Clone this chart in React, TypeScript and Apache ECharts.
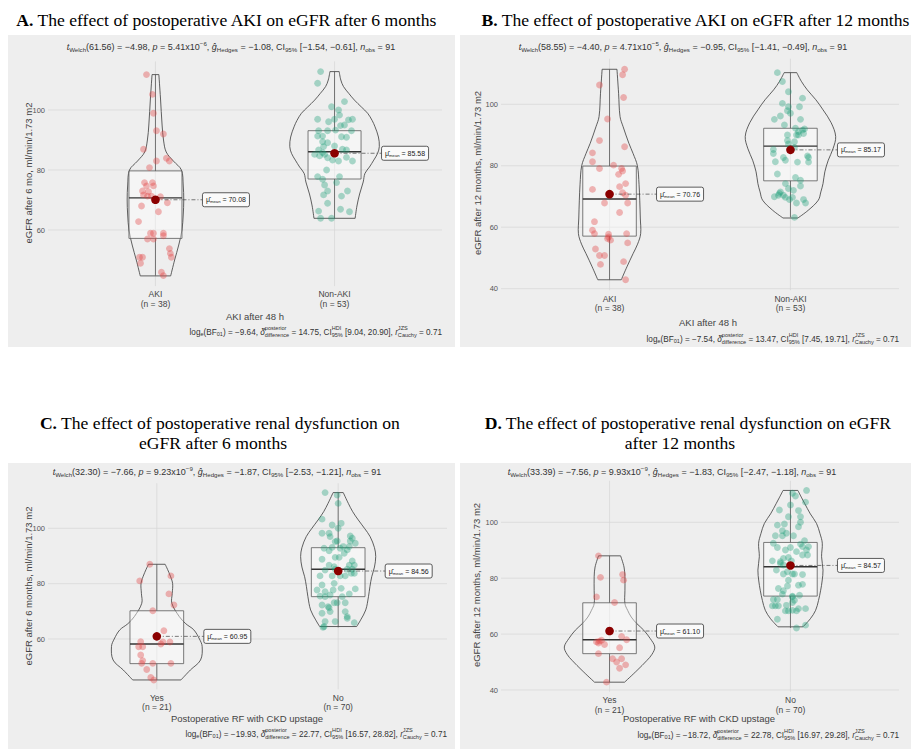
import React, { useEffect, useRef } from "react";
import * as echarts from "echarts";

const SANS = "'Liberation Sans', Arial, Helvetica, sans-serif";
const SERIF = "'Liberation Serif', 'Times New Roman', Times, serif";

// ---------------- Panel A : eGFR after 6 months by AKI ----------------
const A_CATEGORIES = ["AKI", "Non-AKI"];
const A_AKI_EGFR = [111.8, 105.2, 98.9, 93.1, 92.0, 86.9, 83.0, 83.9, 83.0, 80.8, 75.8, 74.7, 75.8, 74.7, 73.0, 71.7, 71.3, 71.3, 71.1, 69.1, 68.0, 66.1, 62.8, 58.9, 58.9, 57.0, 57.0, 58.9, 58.1, 53.8, 52.2, 50.9, 50.9, 50.9, 48.9, 45.9, 44.8, 72.8];
const A_AKI_JITTER = [-9, -3, -2, 1, 8, -12, 1, 11, 14, -6, -11, -9, -3, -2, -13, -12, -8, -4, 5, 12, -14, 3, -17, -5, -2, -8, -2, 8, 8, 14, 15, 16, -16, -13, -15, 6, 8, -7];
const A_NONAKI_EGFR = [112.8, 108.9, 102.8, 101.1, 100.0, 98.3, 96.9, 96.1, 96.9, 96.7, 96.9, 94.8, 95.0, 93.1, 93.1, 93.1, 91.3, 90.9, 89.4, 89.1, 88.0, 87.8, 86.7, 86.9, 86.7, 85.2, 84.7, 85.2, 84.1, 84.2, 83.0, 83.0, 85.8, 77.8, 80.0, 76.9, 75.0, 77.8, 75.8, 73.0, 73.0, 71.3, 71.7, 68.9, 66.9, 66.3, 66.1, 63.9, 63.9, 91.1, 91.3, 93.3, 83.3];
const A_NONAKI_JITTER = [-14, -17, 10, -3, 4, 5, -17, -6, 0, 14, 18, 6, 10, -16, -7, 17, -17, 12, -12, -7, 0, -11, -16, 8, 12, -20, -15, -10, -7, 12, 4, 18, -12, -17, -8, -12, -10, 5, 2, -7, 13, 7, -11, -7, 6, -16, 15, -14, -3, 7, -12, 1, -2];
const A_QUARTILES = [[57.2, 70.7, 79.7], [77.0, 86.1, 93.1]];
const A_MEANS = [70.08, 85.58];
const A_VIOLIN_AKI = [[111.8, 0.019], [104, 0.028], [95, 0.037], [90, 0.045], [86, 0.06], [83, 0.1], [80, 0.145], [75, 0.155], [70, 0.158], [65, 0.155], [60, 0.148], [55, 0.13], [50, 0.107], [44.7, 0.085]];
const A_VIOLIN_NONAKI = [[112.8, 0.026], [110, 0.035], [107.8, 0.05], [105.5, 0.08], [103.3, 0.111], [101, 0.15], [98.9, 0.185], [96.5, 0.21], [94.4, 0.226], [91, 0.245], [87.8, 0.25], [85.5, 0.24], [83.3, 0.219], [81, 0.195], [78.9, 0.17], [76, 0.16], [72, 0.14], [68, 0.125], [63.9, 0.115]];
const A_STATS = { df: "61.56", t: "\u22124.98", pm: "5.41", pe: "\u22126", g: "\u22121.08", ci: ["\u22121.54", "\u22120.61"], n: "91", bf: "\u22129.64", d: "14.75", hdi: ["9.04", "20.90"], r: "0.71" };
const A_TITLE = [["A.", " The effect of postoperative AKI on eGFR after 6 months"]];
const A_Y_TITLE = "eGFR after 6 mo, ml/min/1.73 m2";
const A_X_TITLE = "AKI after 48 h";

// ---------------- Panel B : eGFR after 12 months by AKI ----------------
const B_CATEGORIES = ["AKI", "Non-AKI"];
const B_AKI_EGFR = [111.4, 109.6, 106.3, 102.2, 95.2, 88.2, 86.2, 84.2, 81.3, 80.2, 79.1, 79.1, 78.3, 77.2, 74.2, 73.2, 72.3, 71.2, 70.4, 67.9, 67.9, 64.8, 61.8, 59.0, 57.9, 57.7, 56.8, 55.8, 57.9, 54.9, 52.9, 50.8, 50.8, 47.9, 48.8, 42.9, 71.0, 56.3];
const B_AKI_JITTER = [15, 13, -10, 14, -2, -10, 15, -17, -17, 4, -10, 12, 13, 9, 16, 10, -17, 13, 16, -5, 18, 10, -15, -17, -15, -1, -1, 1, 17, 18, -14, -10, -5, -9, 14, 16, 0, -2];
const B_NONAKI_EGFR = [110.3, 107.4, 104.1, 102.0, 100.3, 99.2, 99.2, 97.9, 97.1, 96.2, 95.1, 95.1, 93.3, 92.2, 92.0, 91.1, 91.6, 90.5, 90.0, 90.0, 90.0, 88.2, 87.8, 87.1, 85.3, 84.0, 86.0, 83.2, 82.7, 81.8, 81.3, 81.2, 81.2, 77.3, 76.2, 75.3, 74.2, 73.4, 72.6, 72.0, 71.5, 70.4, 69.9, 69.7, 69.7, 69.0, 69.0, 67.9, 67.9, 63.2, 71.0, 82.7, 70.4];
const B_NONAKI_JITTER = [-13, -8, -2, 12, -8, -2, 9, -3, 0, -10, -16, 10, -6, 5, 14, 8, 12, 13, -3, 6, 8, -3, 4, -2, -17, -17, 4, 17, -7, -5, -15, 7, 18, -13, 5, 10, -5, 10, -2, 3, -10, -7, -16, -5, 2, -1, 13, 15, 6, 4, -11, 18, -12];
const B_QUARTILES = [[57.1, 69.2, 79.9], [75.1, 86.4, 92.2]];
const B_MEANS = [70.76, 85.17];
const B_VIOLIN_AKI = [[111.4, 0.041], [103.6, 0.05], [96, 0.058], [92.7, 0.075], [87.3, 0.107], [84, 0.13], [80, 0.154], [74, 0.163], [68.8, 0.167], [63, 0.17], [57.9, 0.172], [54.5, 0.155], [51.4, 0.13], [47.1, 0.096], [42.9, 0.065]];
const B_VIOLIN_NONAKI = [[110.3, 0.035], [107.5, 0.06], [104.7, 0.093], [101.5, 0.14], [98.2, 0.18], [94, 0.225], [89.5, 0.25], [85.5, 0.235], [81.8, 0.209], [78, 0.19], [74.2, 0.18], [71.5, 0.168], [68.8, 0.154], [65.5, 0.098], [63, 0.041]];
const B_STATS = { df: "58.55", t: "\u22124.40", pm: "4.71", pe: "\u22125", g: "\u22120.95", ci: ["\u22121.41", "\u22120.49"], n: "91", bf: "\u22127.54", d: "13.47", hdi: ["7.45", "19.71"], r: "0.71" };
const B_TITLE = [["B.", " The effect of postoperative AKI on eGFR after 12 months"]];
const B_Y_TITLE = "eGFR after 12 months, ml/min/1.73 m2";
const B_X_TITLE = "AKI after 48 h";

// ---------------- Panel C : eGFR after 6 months by renal dysfunction ----------------
const C_CATEGORIES = ["Yes", "No"];
const C_YES_EGFR = [87, 81, 82.8, 76.3, 72.3, 70.2, 63, 59, 58.9, 58.9, 57.2, 57.2, 58.2, 54.2, 52.2, 51.2, 51.2, 49, 46.1, 45.2, 51.2];
const C_YES_JITTER = [-7, -17, 14, 12, 17, -4, 7, -16, 6, 13, -18, -14, 4, -16, -14, -15, -4, -10, -6, -3, 14];
const C_NO_EGFR = [112.9, 112.0, 109.0, 103.3, 101.2, 101.8, 100.0, 98.2, 97.2, 96.4, 97.0, 95.4, 95.4, 92.8, 93.1, 92.8, 93.4, 94.6, 91.9, 92.2, 88.8, 89.5, 88.2, 86.7, 86.7, 85.2, 85.2, 84.9, 86.1, 85.2, 82.8, 82.8, 82.8, 83.7, 80.1, 78.3, 78.1, 77.1, 75.5, 75.3, 75.9, 76.3, 73.1, 73.1, 73.1, 72.3, 71.7, 71.3, 69.9, 69.9, 68.1, 69.3, 66.3, 66.3, 65.9, 64.2, 64.5, 98.2, 91.0, 89.5, 86.7, 83.7, 82.8, 79.5, 75.3, 77.7, 77.7, 67.5, 93.4, 95.2];
const C_NO_JITTER = [-13, -1, 0, -16, -6, 3, 0, -16, 12, 14, -8, -1, 12, -14, -6, 2, 11, 17, -9, 9, -16, -3, 14, 16, 11, 9, -3, -13, -4, 14, -18, -6, 7, 16, -4, 3, 17, -13, -18, -13, -8, 11, -1, 7, -4, -16, -10, -9, -8, 7, 9, -16, -13, -3, 16, -15, -14, -9, 6, 1, -9, 13, 2, -16, 4, -21, -5, 9, 5, -3];
const C_QUARTILES = [[51.1, 58.2, 70.2], [75.3, 85.2, 93.0]];
const C_MEANS = [60.95, 84.56];
const C_VIOLIN_YES = [[87, 0.046], [83.5, 0.07], [80.1, 0.087], [76.5, 0.085], [72.9, 0.083], [68.1, 0.124], [65.5, 0.16], [63.3, 0.204], [60, 0.235], [57.3, 0.25], [52.4, 0.241], [48.8, 0.185], [45.2, 0.133]];
const C_VIOLIN_NO = [[112.9, 0.028], [109, 0.056], [106, 0.08], [103, 0.111], [100, 0.145], [97, 0.176], [93, 0.2], [89.8, 0.207], [86, 0.2], [82.5, 0.185], [78.9, 0.175], [75.3, 0.167], [70.5, 0.152], [66.9, 0.124], [64.5, 0.102]];
const C_STATS = { df: "32.30", t: "\u22127.66", pm: "9.23", pe: "\u22129", g: "\u22121.87", ci: ["\u22122.53", "\u22121.21"], n: "91", bf: "\u221219.93", d: "22.77", hdi: ["16.57", "28.82"], r: "0.71" };
const C_TITLE = [["C.", " The effect of postoperative renal dysfunction on"], ["", "eGFR after 6 months"]];
const C_Y_TITLE = "eGFR after 6 months, ml/min/1.73 m2";
const C_X_TITLE = "Postoperative RF with CKD upstage";

// ---------------- Panel D : eGFR after 12 months by renal dysfunction ----------------
const D_CATEGORIES = ["Yes", "No"];
const D_YES_EGFR = [88, 80.3, 81.3, 79.3, 73.3, 71.3, 57.5, 56.8, 56.3, 59.2, 58, 55.1, 53, 51.2, 51.2, 49, 47.8, 42.8, 57.2, 57.8, 50];
const D_YES_JITTER = [-11, -9, 13, 14, -13, 5, -10, -11, -5, 12, 17, 10, -11, 3, 12, 16, 10, -3, -13, -8, 7];
const D_NO_EGFR = [111.4, 110.4, 109.4, 107.2, 106.2, 104.4, 104.2, 102.0, 102.0, 99.4, 100.0, 99.0, 98.4, 97.0, 96.1, 95.2, 95.2, 95.2, 93.4, 92.2, 91.3, 92.5, 91.0, 90.1, 90.1, 89.5, 88.3, 88.3, 87.1, 87.4, 86.2, 85.3, 86.2, 82.3, 81.5, 81.5, 81.5, 81.3, 79.3, 77.8, 76.3, 77.5, 77.2, 75.5, 74.3, 73.9, 73.3, 72.4, 72.4, 72.1, 71.3, 70.1, 70.1, 70.1, 70.3, 69.1, 69.1, 68.3, 68.3, 68.3, 68.5, 65.3, 63.2, 62.2, 85.9, 84.7, 91.0, 82.9, 91.3, 73.6];
const D_NO_JITTER = [16, 2, 5, 15, 0, -11, 8, 10, -2, -6, 10, -13, 8, -8, -4, -15, -8, 3, 14, 10, 12, -17, -13, 16, -5, 6, 12, 17, -7, -2, -18, -10, 1, -3, 2, 4, -7, 12, -2, 12, -12, 8, -3, -7, -8, 9, 2, -17, -13, 4, 2, -18, -15, -12, -4, 8, 15, 6, -2, -5, 2, -13, 15, 6, -10, -7, 0, -14, 18, 2];
const D_QUARTILES = [[53.0, 58.0, 71.2], [73.6, 84.1, 92.8]];
const D_MEANS = [61.10, 84.57];
const D_VIOLIN_YES = [[88, 0.061], [84, 0.08], [80.5, 0.085], [75.5, 0.085], [70.9, 0.085], [68.5, 0.1], [66.1, 0.12], [63.8, 0.15], [61.4, 0.189], [58.4, 0.225], [55.4, 0.25], [52.8, 0.235], [50.6, 0.207], [47, 0.152], [42.8, 0.083]];
const D_VIOLIN_NO = [[111.4, 0.041], [109, 0.06], [106.8, 0.078], [103, 0.11], [99.6, 0.144], [96, 0.163], [92.5, 0.176], [87.7, 0.172], [82.9, 0.18], [79, 0.175], [75.7, 0.167], [72, 0.155], [68.5, 0.139], [65.5, 0.11], [62.6, 0.069]];
const D_STATS = { df: "33.39", t: "\u22127.56", pm: "9.93", pe: "\u22129", g: "\u22121.83", ci: ["\u22122.47", "\u22121.18"], n: "91", bf: "\u221218.72", d: "22.78", hdi: ["16.97", "29.28"], r: "0.71" };
const D_TITLE = [["D.", " The effect of postoperative renal dysfunction on eGFR"], ["", "after 12 months"]];
const D_Y_TITLE = "eGFR after 12 months, ml/min/1.73 m2";
const D_X_TITLE = "Postoperative RF with CKD upstage";

const Y_TICKS = [40, 60, 80, 100];
// jitter offsets are stored in 1/180 of one category step
const JITTER_STEP = 1 / 180;

const PANELS = [
  { cats: A_CATEGORIES, values: [A_AKI_EGFR, A_NONAKI_EGFR], jitter: [A_AKI_JITTER, A_NONAKI_JITTER], quart: A_QUARTILES, means: A_MEANS, violins: [A_VIOLIN_AKI, A_VIOLIN_NONAKI], stats: A_STATS, title: A_TITLE, yTitle: A_Y_TITLE, xTitle: A_X_TITLE },
  { cats: B_CATEGORIES, values: [B_AKI_EGFR, B_NONAKI_EGFR], jitter: [B_AKI_JITTER, B_NONAKI_JITTER], quart: B_QUARTILES, means: B_MEANS, violins: [B_VIOLIN_AKI, B_VIOLIN_NONAKI], stats: B_STATS, title: B_TITLE, yTitle: B_Y_TITLE, xTitle: B_X_TITLE },
  { cats: C_CATEGORIES, values: [C_YES_EGFR, C_NO_EGFR], jitter: [C_YES_JITTER, C_NO_JITTER], quart: C_QUARTILES, means: C_MEANS, violins: [C_VIOLIN_YES, C_VIOLIN_NO], stats: C_STATS, title: C_TITLE, yTitle: C_Y_TITLE, xTitle: C_X_TITLE },
  { cats: D_CATEGORIES, values: [D_YES_EGFR, D_NO_EGFR], jitter: [D_YES_JITTER, D_NO_JITTER], quart: D_QUARTILES, means: D_MEANS, violins: [D_VIOLIN_YES, D_VIOLIN_NO], stats: D_STATS, title: D_TITLE, yTitle: D_Y_TITLE, xTitle: D_X_TITLE },
];

// layout (pixels)
const LAYOUT = [
  { left: 48, width: 394, y100: 110, ppu: 3.0, bg: [8, 35, 447, 312], title: [{ x: 227, y: 20 }], sub: { x: 231, y: 47 }, xTitle: { x: 255, y: 316 }, caption: { x: 442, y: 332 }, yTitle: { x: 28, y: 173 } },
  { left: 501, width: 398, y100: 104.3, ppu: 3.073, bg: [460, 35, 451, 312], title: [{ x: 696, y: 20 }], sub: { x: 683, y: 47 }, xTitle: { x: 708, y: 322 }, caption: { x: 899, y: 339 }, yTitle: { x: 477, y: 173 } },
  { left: 48, width: 399, y100: 528.3, ppu: 2.7675, bg: [8, 463, 447, 286], title: [{ x: 220, y: 423 }, { x: 213, y: 443 }], sub: { x: 217, y: 472 }, xTitle: { x: 247, y: 718 }, caption: { x: 447, y: 734 }, yTitle: { x: 28, y: 586 } },
  { left: 501, width: 398, y100: 522.3, ppu: 2.795, bg: [460, 463, 451, 286], title: [{ x: 688, y: 423 }, { x: 680, y: 443 }], sub: { x: 672, y: 472 }, xTitle: { x: 699, y: 718 }, caption: { x: 899, y: 735 }, yTitle: { x: 476, y: 585 } },
];

const BG = "#eeeeee";
const GRID_COLOR = "#d6d6d6";
const POINT_COLORS = ["rgba(226,70,70,0.48)", "rgba(27,158,119,0.45)"];
const BOX_HALF = 0.148;

type Seg = { t?: string; sup?: string; sub?: string; s?: number; dy?: number; it?: boolean; b?: boolean };

let measureCtx: CanvasRenderingContext2D | null = null;
function fontStr(size: number, it: boolean | undefined, b: boolean | undefined, fam: string) {
  return `${it ? "italic " : ""}${b ? "bold " : ""}${size}px ${fam}`;
}
function measure(text: string, font: string) {
  if (!measureCtx) measureCtx = document.createElement("canvas").getContext("2d");
  measureCtx!.font = font;
  return measureCtx!.measureText(text).width;
}

function layoutText(segs: Seg[], fs: number, fam: string, x: number, y: number, align: string, fill: string, z = 10) {
  const parts = segs.map((sg) => {
    const size = fs * (sg.s ?? 1);
    if (sg.sup !== undefined) {
      const f = fontStr(size, false, false, fam);
      return { sg, size, f, w: Math.max(measure(sg.sup!, f), measure(sg.sub || "", f)) };
    }
    const f = fontStr(size, sg.it, sg.b, fam);
    return { sg, size, f, w: measure(sg.t || "", f) };
  });
  const total = parts.reduce((a, p) => a + p.w, 0);
  let cx = align === "center" ? x - total / 2 : align === "right" ? x - total : x;
  const els: any[] = [];
  const txt = (tx: number, ty: number, text: string, font: string) => ({
    type: "text", x: tx, y: ty, z, silent: true,
    style: { text, font, fill, textAlign: "left", textVerticalAlign: "middle", align: "left", verticalAlign: "middle" },
  });
  for (const p of parts) {
    const sg = p.sg;
    if (sg.sup !== undefined) {
      els.push(txt(cx, y - 0.46 * fs, sg.sup!, p.f));
      els.push(txt(cx, y + 0.42 * fs, sg.sub || "", p.f));
    } else {
      els.push(txt(cx, y + (sg.dy ?? 0) * fs, sg.t || "", p.f));
    }
    cx += p.w;
  }
  return { els, width: total };
}

function subtitleSegs(s: any): Seg[] {
  return [
    { t: "t", it: true }, { t: "Welch", s: 0.68, dy: 0.3 }, { t: `(${s.df}) = ${s.t}, ` },
    { t: "p", it: true }, { t: ` = ${s.pm}x10` }, { t: s.pe, s: 0.68, dy: -0.42 }, { t: ", " },
    { t: "\u011d", it: true }, { t: "Hedges", s: 0.68, dy: 0.3 }, { t: ` = ${s.g}, CI` },
    { t: "95%", s: 0.68, dy: 0.3 }, { t: ` [${s.ci[0]}, ${s.ci[1]}], ` },
    { t: "n", it: true }, { t: "obs", s: 0.68, dy: 0.3 }, { t: ` = ${s.n}` },
  ];
}
function captionSegs(s: any): Seg[] {
  return [
    { t: "log" }, { t: "e", s: 0.68, dy: 0.3 }, { t: "(BF" }, { t: "01", s: 0.68, dy: 0.3 }, { t: `) = ${s.bf}, ` },
    { t: "\u03b4\u0302", it: true }, { sup: "posterior", sub: "difference", s: 0.68 }, { t: ` = ${s.d}, CI` },
    { sup: "HDI", sub: "95%", s: 0.68 }, { t: ` [${s.hdi[0]}, ${s.hdi[1]}], ` },
    { t: "r", it: true }, { sup: "JZS", sub: "Cauchy", s: 0.68 }, { t: ` = ${s.r}` },
  ];
}

function extentOf(p: any) {
  const all: number[] = [...p.values[0], ...p.values[1], ...p.violins[0].map((d: number[]) => d[0]), ...p.violins[1].map((d: number[]) => d[0])];
  const lo = Math.min(...all), hi = Math.max(...all);
  const pad = (hi - lo) * 0.05;
  return [lo - pad, hi + pad];
}

function buildOption() {
  const grids: any[] = [], xAxes: any[] = [], yAxes: any[] = [], series: any[] = [], graphics: any[] = [];
  PANELS.forEach((P, pi) => {
    const L = LAYOUT[pi];
    const [ymin, ymax] = extentOf(P);
    const top = L.y100 - (ymax - 100) * L.ppu;
    const height = (ymax - ymin) * L.ppu;
    grids.push({ left: L.left, width: L.width, top, height, show: false });
    xAxes.push({
      gridIndex: pi, type: "value", min: 0.4, max: 2.6,
      axisLine: { show: false }, axisTick: { show: false }, splitLine: { show: false },
      axisLabel: {
        customValues: [1, 2], margin: 3.5, color: "#444", fontSize: 8.5, lineHeight: 9.5, fontFamily: SANS,
        formatter: (v: number) => { const g = Math.round(v) - 1; return `${P.cats[g]}\n(n = ${P.values[g].length})`; },
      },
    });
    const ticks = Y_TICKS.filter((t) => t >= ymin && t <= ymax);
    yAxes.push({
      gridIndex: pi, type: "value", min: ymin, max: ymax,
      axisLine: { show: false }, axisTick: { show: false }, splitLine: { show: false },
      axisLabel: { customValues: ticks, margin: 3, color: "#555", fontSize: 7.5, fontFamily: SANS },
    });

    // gridlines
    series.push({
      type: "custom", xAxisIndex: pi, yAxisIndex: pi, z: 1, silent: true,
      data: ticks.map((t) => [1, t]),
      renderItem: (params: any, api: any) => {
        const cs = params.coordSys;
        const y = api.coord([1, api.value(1)])[1];
        return { type: "line", shape: { x1: cs.x, y1: y, x2: cs.x + cs.width, y2: y }, style: { stroke: GRID_COLOR, lineWidth: 0.7 } };
      },
    });
    series.push({
      type: "custom", xAxisIndex: pi, yAxisIndex: pi, z: 1, silent: true,
      data: [[1, 80], [2, 80]],
      renderItem: (params: any, api: any) => {
        const cs = params.coordSys;
        const x = api.coord([api.value(0), 80])[0];
        return { type: "line", shape: { x1: x, y1: cs.y, x2: x, y2: cs.y + cs.height }, style: { stroke: GRID_COLOR, lineWidth: 0.7 } };
      },
    });

    // violin + box
    series.push({
      type: "custom", xAxisIndex: pi, yAxisIndex: pi, z: 2, silent: true,
      data: P.quart.map((q, g) => [g + 1, q[1]]),
      renderItem: (params: any, api: any) => {
        const g = params.dataIndex;
        const cx = g + 1;
        const prof = P.violins[g];
        const R = prof.map(([v, h]) => api.coord([cx + h, v]));
        const Lf = prof.map(([v, h]) => api.coord([cx - h, v]));
        const n = prof.length;
        const vals = P.values[g];
        const lo = Math.min(...vals), hi = Math.max(...vals);
        const [q1, q2, q3] = P.quart[g];
        const b1 = api.coord([cx - BOX_HALF, q3]);
        const b2 = api.coord([cx + BOX_HALF, q1]);
        const med = api.coord([cx, q2])[1];
        const pTop = api.coord([cx, hi]);
        const pBot = api.coord([cx, lo]);
        const vs = { stroke: "#3a3a3a", lineWidth: 0.8, fill: "none" };
        const ws = { stroke: "#555", lineWidth: 0.8 };
        return {
          type: "group",
          children: [
            { type: "polyline", shape: { points: R, smooth: 0.35 }, style: vs },
            { type: "polyline", shape: { points: Lf, smooth: 0.35 }, style: vs },
            { type: "line", shape: { x1: Lf[0][0], y1: Lf[0][1], x2: R[0][0], y2: R[0][1] }, style: vs },
            { type: "line", shape: { x1: Lf[n - 1][0], y1: Lf[n - 1][1], x2: R[n - 1][0], y2: R[n - 1][1] }, style: vs },
            { type: "line", shape: { x1: pTop[0], y1: pTop[1], x2: pTop[0], y2: b1[1] }, style: ws },
            { type: "line", shape: { x1: pBot[0], y1: pBot[1], x2: pBot[0], y2: b2[1] }, style: ws },
            { type: "rect", shape: { x: b1[0], y: b1[1], width: b2[0] - b1[0], height: b2[1] - b1[1] }, style: { fill: "rgba(255,255,255,0.4)", stroke: "#5a5a5a", lineWidth: 0.8 } },
            { type: "line", shape: { x1: b1[0], y1: med, x2: b2[0], y2: med }, style: { stroke: "#333", lineWidth: 1.4 } },
          ],
        };
      },
    });

    // jittered points
    [0, 1].forEach((g) => {
      series.push({
        type: "scatter", xAxisIndex: pi, yAxisIndex: pi, z: 3, silent: true,
        symbol: "circle", symbolSize: 6.8,
        itemStyle: { color: POINT_COLORS[g] },
        data: P.values[g].map((v, j) => [g + 1 + P.jitter[g][j] * JITTER_STEP, v]),
      });
    });

    // means + label
    series.push({
      type: "custom", xAxisIndex: pi, yAxisIndex: pi, z: 4, silent: true,
      data: P.means.map((m, g) => [g + 1, m]),
      renderItem: (params: any, api: any) => {
        const g = params.dataIndex;
        const m = P.means[g];
        const p = api.coord([g + 1, m]);
        const bx = p[0] + 47;
        const lab = layoutText([{ t: "\u03bc\u0302" }, { t: "mean", s: 0.6, dy: 0.3 }, { t: ` = ${m.toFixed(2)}` }], 7, SANS, bx + 3.5, p[1], "left", "#222", 6);
        return {
          type: "group",
          children: [
            { type: "line", shape: { x1: p[0], y1: p[1], x2: bx, y2: p[1] }, style: { stroke: "#444", lineWidth: 0.7, lineDash: [4, 2, 1, 2] } },
            { type: "rect", shape: { x: bx, y: p[1] - 7, width: lab.width + 7, height: 14, r: 2 }, style: { fill: "#fafafa", stroke: "#333", lineWidth: 0.8 } },
            ...lab.els,
            { type: "circle", shape: { cx: p[0], cy: p[1], r: 4.3 }, style: { fill: "#8b0000" } },
          ],
        };
      },
    });

    // graphics: background, titles, texts
    graphics.push({ type: "rect", z: -10, silent: true, shape: { x: L.bg[0], y: L.bg[1], width: L.bg[2], height: L.bg[3] }, style: { fill: BG } });
    P.title.forEach((line, li) => {
      const segs: Seg[] = [];
      if (line[0]) segs.push({ t: line[0], b: true });
      segs.push({ t: line[1] });
      graphics.push(...layoutText(segs, 17.6, SERIF, L.title[li].x, L.title[li].y, "center", "#000").els);
    });
    graphics.push(...layoutText(subtitleSegs(P.stats), 9, SANS, L.sub.x, L.sub.y, "center", "#333").els);
    graphics.push(...layoutText(captionSegs(P.stats), 8.2, SANS, L.caption.x, L.caption.y, "right", "#333").els);
    graphics.push({ type: "text", x: L.xTitle.x, y: L.xTitle.y, z: 10, silent: true, style: { text: P.xTitle, font: `9.5px ${SANS}`, fill: "#444", textAlign: "center", textVerticalAlign: "middle" } });
    graphics.push({ type: "text", x: L.yTitle.x, y: L.yTitle.y, rotation: Math.PI / 2, z: 10, silent: true, style: { text: P.yTitle, font: `9.5px ${SANS}`, fill: "#444", textAlign: "center", textVerticalAlign: "middle" } });
  });

  return {
    animation: false,
    backgroundColor: "#ffffff",
    grid: grids,
    xAxis: xAxes,
    yAxis: yAxes,
    series,
    graphic: { elements: graphics },
  };
}

export default function App() {
  const ref = useRef<HTMLDivElement>(null);
  useEffect(() => {
    if (!ref.current) return;
    const chart = echarts.init(ref.current, null, { renderer: "svg" });
    chart.setOption(buildOption() as any);
    return () => chart.dispose();
  }, []);
  return <div ref={ref} style={{ position: "absolute", left: 0, top: 0, width: 916, height: 749 }} />;
}
